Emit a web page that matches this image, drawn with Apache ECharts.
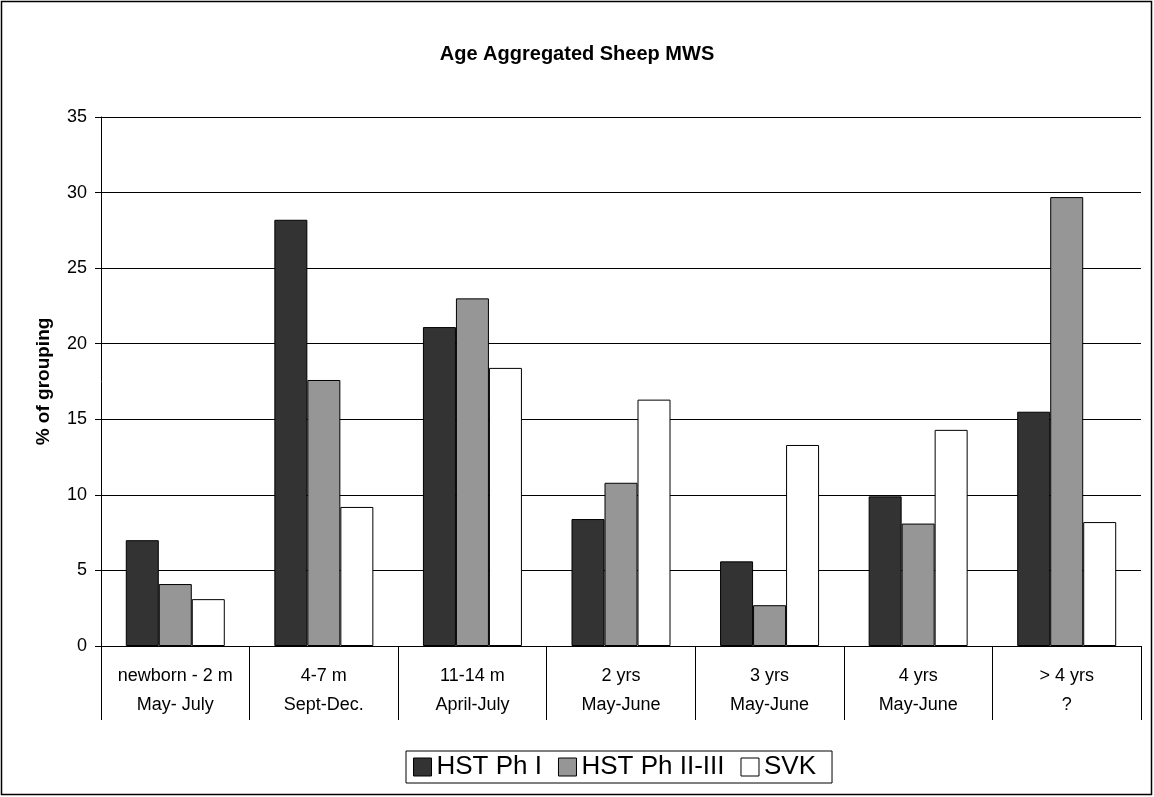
<!DOCTYPE html>
<html>
<head>
<meta charset="utf-8">
<script src="https://cdn.jsdelivr.net/npm/echarts@6/dist/echarts.min.js"></script>
<style>
  html, body { margin: 0; padding: 0; background: #fff; }
  #chart { width: 1154px; height: 797px; }
</style>
</head>
<body>
<div id="chart"></div>
<script>
// 年龄组 + 季节
const ageGroups = ["newborn - 2 m", "4-7 m", "11-14 m", "2 yrs", "3 yrs", "4 yrs", "> 4 yrs"];
const seasons = ["May- July", "Sept-Dec.", "April-July", "May-June", "May-June", "May-June", "?"];

const seriesNames = ["HST Ph I", "HST Ph II-III", "SVK"];
const hstPh1 = [7.0, 28.2, 21.1, 8.4, 5.6, 9.9, 15.5];
const hstPh23 = [4.1, 17.6, 23.0, 10.8, 2.7, 8.1, 29.7];
const svk = [3.1, 9.2, 18.4, 16.3, 13.3, 14.3, 8.2];

const COLORS = ["#333333", "#969696", "#ffffff"];
const FONT = "Liberation Sans, Arial, sans-serif";

const categories = ageGroups.map((a, i) => `${a}\n${seasons[i]}`);
const seriesData = [hstPh1, hstPh23, svk];

const chart = echarts.init(document.getElementById("chart"));

const option = {
  animation: false,
  backgroundColor: "#fff",
  textStyle: { fontFamily: FONT, color: "#000" },
  title: {
    text: "Age Aggregated Sheep MWS",
    left: "center",
    top: 39,
    textStyle: { fontFamily: FONT, fontSize: 20, fontWeight: "bold", color: "#000" },
  },
  legend: {
    data: seriesNames,
    bottom: 14,
    left: 406,
    padding: [3, 16, 3, 7],
    borderColor: "#000",
    borderWidth: 1,
    itemWidth: 18,
    itemHeight: 18,
    itemGap: 16,
    icon: "rect",
    itemStyle: { borderColor: "#000", borderWidth: 1 },
    textStyle: { fontFamily: FONT, fontSize: 26, color: "#000" },
  },
  grid: { left: 101, right: 13, top: 117, bottom: 151 },
  xAxis: {
    type: "category",
    data: categories,
    axisLine: { lineStyle: { color: "#000", width: 1 } },
    axisTick: { show: true, length: 74, lineStyle: { color: "#000" } },
    axisLabel: {
      fontFamily: FONT,
      fontSize: 18,
      color: "#000",
      lineHeight: 29,
      margin: 16,
      interval: 0,
    },
  },
  yAxis: {
    type: "value",
    min: 0,
    max: 35,
    interval: 5,
    name: "% of grouping",
    nameLocation: "middle",
    nameGap: 48,
    nameTextStyle: { fontFamily: FONT, fontSize: 19, fontWeight: "bold", color: "#000" },
    axisLine: { show: true, lineStyle: { color: "#000" } },
    axisTick: { show: true, length: 6, lineStyle: { color: "#000" } },
    axisLabel: { fontFamily: FONT, fontSize: 18, color: "#000", margin: 14 },
    splitLine: { show: true, lineStyle: { color: "#000", width: 1 } },
  },
  series: seriesNames.map((name, i) => ({
    name,
    type: "bar",
    data: seriesData[i],
    barWidth: 33,
    barGap: "0%",
    itemStyle: { color: COLORS[i], borderColor: "#000", borderWidth: 1 },
  })),
  graphic: [
    {
      type: "rect",
      shape: { x: 1.5, y: 1.5, width: 1150, height: 793 },
      style: { fill: null, stroke: "#000", lineWidth: 1.5 },
      silent: true,
    },
  ],
};

chart.setOption(option);
</script>
</body>
</html>
